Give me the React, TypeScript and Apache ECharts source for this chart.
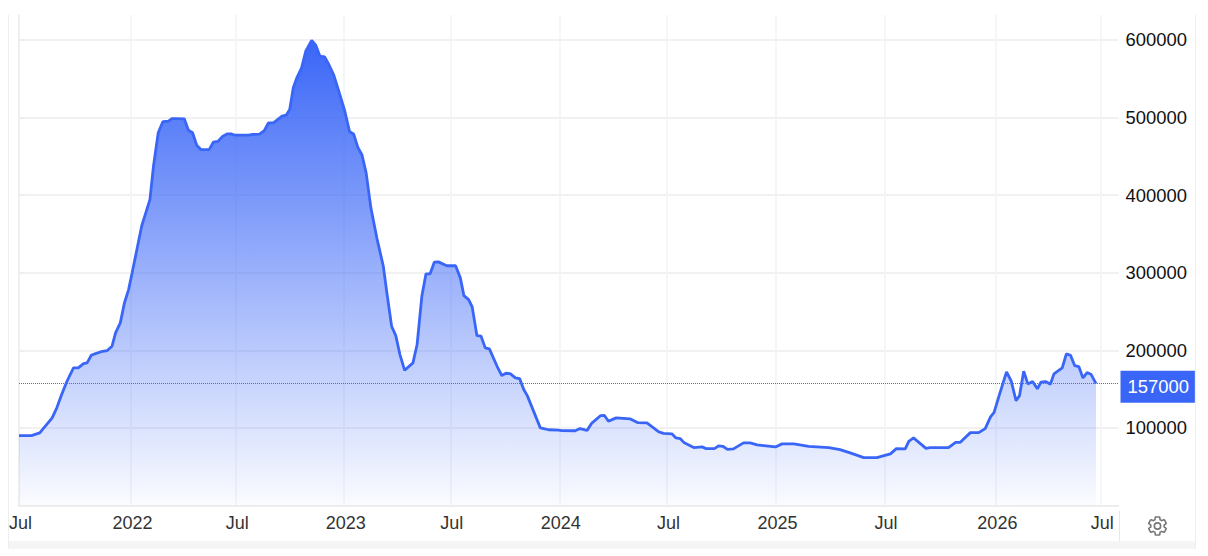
import React, { useEffect, useRef } from "react";
import * as echarts from "echarts";

// x is measured in days since 1 July 2021
const dayRange = [0, 1856];

const dayOffsets = [
  0, 21, 35, 49, 56, 64, 72, 81, 92, 100, 109, 115, 122, 128, 141, 149, 157, 163, 171, 178,
  185, 191, 199, 207, 214, 221, 227, 235, 243, 252, 258, 266, 279, 286, 293, 300, 307, 321, 328, 336,
  344, 352, 358, 365, 387, 393, 406, 414, 421, 430, 444, 451, 457, 463, 469, 477, 484, 494, 501, 508,
  516, 523, 531, 539, 550, 558, 565, 572, 579, 586, 594, 604, 615, 621, 629, 636, 643, 651, 665, 672,
  680, 687, 694, 701, 708, 722, 737, 745, 751, 759, 765, 773, 780, 787, 794, 807, 815, 822, 829, 838,
  845, 852, 858, 880, 894, 911, 916, 939, 947, 959, 967, 982, 988, 995, 1008, 1032, 1044, 1060, 1080, 1088,
  1102, 1109, 1116, 1123, 1139, 1153, 1160, 1174, 1181, 1188, 1196, 1206, 1223, 1234, 1246, 1257, 1277, 1288, 1308, 1333,
  1367, 1386, 1403, 1426, 1448, 1471, 1481, 1496, 1502, 1510, 1531, 1538, 1569, 1581, 1589, 1606, 1620, 1631, 1640, 1646,
  1655, 1667, 1675, 1683, 1689, 1696, 1703, 1711, 1719, 1725, 1733, 1741, 1747, 1761, 1768, 1775, 1782, 1789, 1796, 1803,
  1810, 1818,
];

const seriesValues = [
  90100, 90100, 93600, 106400, 112900, 126200, 142900, 160100, 177300, 177300, 182900, 183800, 193600, 195400, 198700, 199600, 205200, 222400, 235300, 261100,
  278200, 299800, 329800, 359800, 377100, 394200, 437100, 480200, 494700, 495100, 498600, 498600, 498200, 483500, 480200, 464200, 458600, 458600, 468100, 469300,
  475800, 478900, 478900, 477100, 477100, 478000, 478400, 483100, 493100, 493400, 501600, 502900, 510200, 538200, 551100, 563900, 585300, 599100, 593100, 578900,
  578100, 568200, 555300, 535900, 508000, 481900, 478400, 461500, 451600, 428600, 383500, 344900, 308200, 274000, 230900, 218900, 194500, 174200, 183800, 207400,
  269600, 298500, 298500, 313400, 313900, 308900, 308900, 293300, 270500, 265300, 255900, 218900, 218100, 203100, 201800, 179400, 167400, 170400, 170000, 164400,
  163500, 149400, 141600, 100000, 97600, 97200, 96500, 96300, 99100, 96800, 106200, 115900, 116200, 108500, 112900, 111600, 106800, 106400, 94900, 93000,
  92300, 87100, 86200, 80700, 74600, 75500, 73300, 73300, 76800, 76300, 72400, 72900, 80700, 80700, 78100, 77200, 75500, 79400, 79400, 76300,
  74600, 72000, 67800, 61700, 61700, 66500, 73300, 72900, 82700, 87100, 73700, 74600, 74600, 81400, 81400, 93900, 93900, 99100, 114200, 120100,
  142900, 172200, 160100, 135200, 141600, 172900, 156700, 159700, 150300, 158800, 159700, 156200, 169600, 177300, 195400, 193600, 180300, 179000, 164400, 171300,
  168700, 157000,
];

const tickDays = [0, 189, 366, 549, 728, 912, 1094, 1278, 1461, 1649, 1826];
const tickLabels = ["Jul", "2022", "Jul", "2023", "Jul", "2024", "Jul", "2025", "Jul", "2026", "Jul"];
const yTicks = [100000, 200000, 300000, 400000, 500000, 600000];
const lastValue = 157000;

const GEAR =
  "M19.43 12.98c.04-.32.07-.64.07-.98 0-.34-.03-.66-.07-.98l2.11-1.65c.19-.15.24-.42.12-.64l-2-3.46c-.09-.16-.26-.25-.44-.25-.06 0-.12.01-.17.03l-2.49 1c-.52-.4-1.08-.73-1.69-.98l-.38-2.65C14.46 2.18 14.25 2 14 2h-4c-.25 0-.46.18-.49.42l-.38 2.65c-.61.25-1.17.59-1.69.98l-2.49-1c-.06-.02-.12-.03-.18-.03-.17 0-.34.09-.43.25l-2 3.46c-.13.22-.07.49.12.64l2.11 1.65c-.04.32-.07.65-.07.98 0 .33.03.66.07.98l-2.11 1.65c-.19.15-.24.42-.12.64l2 3.46c.09.16.26.25.44.25.06 0 .12-.01.17-.03l2.49-1c.52.4 1.08.73 1.69.98l.38 2.65c.03.24.24.42.49.42h4c.25 0 .46-.18.49-.42l.38-2.65c.61-.25 1.17-.59 1.69-.98l2.49 1c.06.02.12.03.18.03.17 0 .34-.09.43-.25l2-3.46c.12-.22.07-.49-.12-.64l-2.11-1.65zM12 15.5c-1.93 0-3.5-1.57-3.5-3.5s1.57-3.5 3.5-3.5 3.5 1.57 3.5 3.5-1.57 3.5-3.5 3.5z";
echarts.graphic.registerShape("gear", echarts.graphic.extendPath(GEAR, {}) as any);

const FONT = "Arial, 'Liberation Sans', sans-serif";
const BLUE = "#3a66f7";

export default function App() {
  const ref = useRef<HTMLDivElement>(null);
  useEffect(() => {
    const chart = echarts.init(ref.current!, undefined, { renderer: "svg" });
    chart.setOption({
      animation: false,
      backgroundColor: "#ffffff",
      grid: { left: 19, right: 89.5, top: 15, bottom: 50.5 },
      xAxis: {
        type: "value",
        min: dayRange[0],
        max: dayRange[1],
        axisLine: { show: true, lineStyle: { color: "#e8e8e8", width: 1.5 } },
        axisTick: { show: false, customValues: tickDays },
        splitLine: { show: true, lineStyle: { color: "#f0f3f8", width: 1.5 } },
        axisLabel: {
          customValues: tickDays,
          color: "#333333",
          fontFamily: FONT,
          fontSize: 18,
          margin: 8,
          padding: [0, 0, 0, 3],
          hideOverlap: false,
          formatter: (v: number) => tickLabels[tickDays.indexOf(v)] ?? "",
        },
      },
      yAxis: {
        type: "value",
        position: "right",
        min: 0,
        max: 632000,
        axisLine: { show: true, lineStyle: { color: "#ececec", width: 1.5 } },
        axisTick: { show: true, length: 6, customValues: yTicks, lineStyle: { color: "#ececec", width: 1.5 } },
        splitLine: { show: true, lineStyle: { color: "#ececec", width: 1.5 } },
        axisLabel: {
          customValues: yTicks,
          color: "#111111",
          fontFamily: FONT,
          fontSize: 18.4,
          margin: 7,
          align: "left",
          formatter: (v: number) => String(v),
        },
      },
      series: [
        {
          type: "line",
          showSymbol: false,
          symbol: "none",
          smooth: false,
          silent: true,
          lineStyle: { color: BLUE, width: 2.8 },
          areaStyle: {
            opacity: 1,
            color: new echarts.graphic.LinearGradient(0, 0, 0, 1, [
              { offset: 0, color: "rgba(58,102,247,1)" },
              { offset: 1, color: "rgba(58,102,247,0.02)" },
            ]),
          },
          data: dayOffsets.map((d, i) => [d, seriesValues[i]]),
          markLine: {
            silent: true,
            symbol: "none",
            animation: false,
            lineStyle: { color: "#3f6cff", type: "dotted", width: 1 },
            label: {
              show: true,
              position: "end",
              distance: 2,
              offset: [0, 3],
              formatter: () => String(lastValue),
              color: "#ffffff",
              backgroundColor: BLUE,
              fontFamily: FONT,
              fontSize: 18.4,
              padding: [7, 6, 7, 7],
            },
            data: [{ yAxis: lastValue }],
          },
        },
      ],
      graphic: [
        { type: "rect", silent: true, shape: { x: 8, y: 543, width: 1188, height: 6 }, style: { fill: "#f5f5f5" } },
        { type: "line", silent: true, shape: { x1: 8, y1: 542, x2: 1196, y2: 542 }, style: { stroke: "#ececec", lineWidth: 1 } },
        { type: "line", silent: true, shape: { x1: 8.5, y1: 15, x2: 8.5, y2: 549 }, style: { stroke: "#eeeeee", lineWidth: 1 } },
        { type: "line", silent: true, shape: { x1: 1195.5, y1: 15, x2: 1195.5, y2: 549 }, style: { stroke: "#eeeeee", lineWidth: 1 } },
        { type: "line", silent: true, shape: { x1: 1119.5, y1: 511, x2: 1119.5, y2: 541 }, style: { stroke: "#e6e6e6", lineWidth: 1 } },
        {
          type: "gear",
          silent: true,
          x: 1146.7,
          y: 515.2,
          scaleX: 0.9,
          scaleY: 0.9,
          style: { fill: "none", stroke: "#777777", lineWidth: 1.8 },
        },
      ],
    } as any);
    return () => chart.dispose();
  }, []);
  return <div ref={ref} style={{ position: "fixed", left: 0, top: 0, width: 1208, height: 556 }} />;
}
